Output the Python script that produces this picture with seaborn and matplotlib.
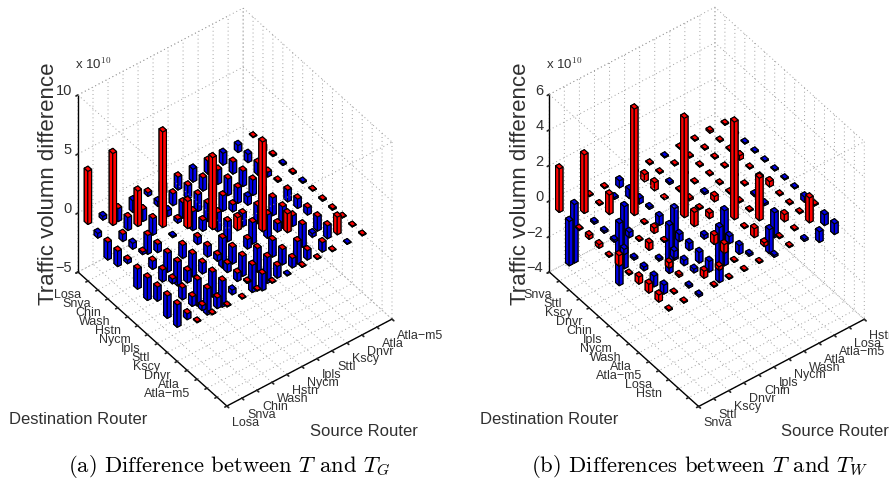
import matplotlib
matplotlib.use('Agg')
import matplotlib.pyplot as plt
import numpy as np
import seaborn as sns
from mpl_toolkits.mplot3d import proj3d

# Router order on the axes
src_a = ['Losa', 'Snva', 'Chin', 'Wash', 'Hstn', 'Nycm', 'Ipls', 'Sttl', 'Kscy', 'Dnvr', 'Atla', 'Atla−m5']
dst_a = src_a
src_b = ['Snva', 'Sttl', 'Kscy', 'Dnvr', 'Chin', 'Ipls', 'Nycm', 'Wash', 'Atla', 'Atla−m5', 'Losa', 'Hstn']
dst_b = src_b

# Traffic difference, x 10^10, rows = destination, columns = source
diff_a = [
    [4.5, -0.3, -1.1, -1.0, -0.3, -0.8, -1.1, -1.1, -1.1, -1.0, -0.6, 0.05],
    [-0.4, 6.1, -1.1, -1.0, -0.4, -1.0, -1.1, -1.1, -1.2, -1.0, -0.7, -0.5],
    [-1.5, -0.6, 3.0, -1.4, -0.5, -1.3, -1.4, -1.0, -1.4, -1.3, -1.0, -0.1],
    [-1.3, -0.5, -1.6, 8.1, -0.3, -1.6, -1.5, -1.3, -1.3, -1.3, -0.4, -0.1],
    [-0.3, -0.2, -0.7, -0.1, 2.3, -0.9, -1.6, -0.6, -0.7, -1.0, -0.1, -0.1],
    [-1.7, -0.7, -1.6, -1.1, -0.6, 6.1, -1.7, -1.1, -1.5, -1.5, -1.0, -0.1],
    [-1.9, -1.0, -2.0, -1.9, -0.9, -2.5, 1.1, -1.8, -2.0, -1.8, -0.8, 0.05],
    [-1.2, -0.4, -1.0, -0.9, -0.5, -1.4, -0.8, 7.6, -0.7, -0.9, -0.6, -0.1],
    [-1.9, -1.0, -2.2, -2.1, -0.7, -1.7, -2.0, -1.4, 1.6, -1.9, -1.2, -0.1],
    [-1.9, -0.8, -2.2, -2.2, -0.7, -2.3, -2.2, -1.3, -1.9, -0.3, -1.1, 0.05],
    [-0.5, -0.4, -0.9, -0.4, -0.1, -1.4, -1.0, -0.8, -0.8, -0.8, 1.5, 0.05],
    [0.05, 0.05, 0.05, 0.05, 0.05, 0.05, -0.05, 0.05, 0.05, 0.05, -0.05, 0.05],
]
diff_b = [
    [2.45, -3.3, 0.05, 0.05, -0.4, 0.05, 0.05, -0.05, 0.05, 0.05, 0.1, 0.05],
    [-2.5, 3.3, 0.05, -0.1, -0.5, 0.4, 0.05, 0.05, 0.05, 0.05, 0.05, -0.05],
    [0.05, -0.1, 1.1, -3.5, -0.3, 0.45, -0.1, 0.05, 0.05, 0.05, 0.05, -0.05],
    [0.2, -0.1, -3.5, 6.0, -0.1, 0.05, 0.05, 0.05, 0.05, 0.05, 0.25, -0.05],
    [0.2, -0.1, -0.3, 0.05, -0.5, -2.9, 0.1, -0.1, 0.05, 0.05, 0.05, -0.05],
    [0.05, -0.3, 0.05, 0.3, -2.7, 5.6, 0.05, 0.3, 0.05, 0.05, 0.05, -0.05],
    [0.6, -0.1, 0.4, 0.05, -0.4, 0.8, 0.3, -3.1, 0.05, -0.1, 0.3, -0.05],
    [0.05, -0.2, -0.1, -0.4, -0.4, -0.2, -3.1, 5.5, 0.05, -0.1, 0.05, -0.05],
    [0.4, -0.6, 0.3, -0.3, -0.6, 0.5, -0.4, 0.05, 2.4, -1.4, 0.05, -0.3],
    [0.5, -0.5, 0.1, -0.2, -0.6, 0.5, -0.5, 0.5, -1.35, 0.4, 0.05, 0.05],
    [0.4, 0.05, -0.1, 0.4, 0.2, 0.05, -0.1, 0.2, 0.05, 0.05, 1.4, -0.6],
    [0.05, 0.05, -0.1, 0.05, 0.05, 0.05, 0.05, -0.1, 0.05, -0.1, -0.6, -0.6],
]
# small negative bars of panel a whose top stays blue
blue_tops_a = [(0, 1), (0, 3), (0, 7), (0, 9), (0, 10), (1, 0), (1, 4), (1, 10), (2, 4),
               (3, 1), (3, 11), (4, 3), (4, 8), (5, 11), (9, 9), (10, 3), (11, 6), (11, 10)]

z_ticks_a = [-5, 0, 5, 10]
z_ticks_b = [-4, -2, 0, 2, 4, 6]

RED = '#ff0000'
BLUE = '#0000e8'
DARK = '#303030'
GRID = '#a0a0a0'
DOTS = (0, (1, 3))
W = 889
H = 482

sns.set_theme(style='white', rc={'mathtext.fontset': 'cm', 'axes.unicode_minus': True})
plt.rcParams['font.family'] = ['Liberation Sans', 'DejaVu Sans']


def corner_px(ax, x, y, z):
    xp, yp, _ = proj3d.proj_transform(x, y, z, ax.get_proj())
    return ax.transData.transform((xp, yp))


def fit_axes(ax, left, right, z_low):
    # move the square axes until the floor corners land on the wanted pixels
    side = 400.0
    cx, cy = (left[0] + right[0]) / 2, H - (left[1] + right[1]) / 2
    for _ in range(4):
        ax.set_position([(cx - side / 2) / W, (cy - side / 2) / H, side / W, side / H])
        ax.apply_aspect()
        a = corner_px(ax, 0, 0, z_low)
        b = corner_px(ax, 11, 15, z_low)
        c = corner_px(ax, 11, 0, z_low)
        d = corner_px(ax, 0, 15, z_low)
        xs = np.array([a[0], b[0], c[0], d[0]])
        side *= (right[0] - left[0]) / (xs.max() - xs.min())
        ax.set_position([(cx - side / 2) / W, (cy - side / 2) / H, side / W, side / H])
        ax.apply_aspect()
        a = corner_px(ax, 0, 0, z_low)
        cx += left[0] - a[0]
        cy += (H - left[1]) - a[1]
    ax.set_position([(cx - side / 2) / W, (cy - side / 2) / H, side / W, side / H])
    ax.apply_aspect()


def label_at(ax, x, y, z, s, size, dx=0, dy=0):
    # tick label written at the pixel under a point of the box
    px, py = corner_px(ax, x, y, z)
    fig.text((px + dx) / W, (py + dy) / H, s, fontsize=size, color=DARK, ha='right', va='center')


def draw_panel(ax, values, src, dst, zlim, zticks, left, right, blue_tops=None):
    ax.set_proj_type('ortho')
    ax.view_init(elev=43.5, azim=-127.4)
    ax.set_box_aspect((207.8, 245, 244))
    ax.computed_zorder = False
    ax.set_xlim(0, 11, view_margin=0)
    ax.set_ylim(15, 0, view_margin=0)
    ax.set_zlim(zlim[0], zlim[1], view_margin=0)

    wx, wy = 0.25, 0.36
    for r, row in enumerate(values):
        for c, v in enumerate(row):
            side = RED if v > 0 else BLUE
            if blue_tops is None:
                top = side
            else:
                top = BLUE if (r, c) in blue_tops else RED
            poly = ax.bar3d(c - wx / 2, r + 1 - wy / 2, min(v, 0), wx, wy, abs(v),
                            color=[side, top, side, side, side, side],
                            shade=False, edgecolor='black', linewidth=0.8)
            poly.set_zorder(10 + r * 26.2 - c * 23.5)

    ax.set_xticks(range(12))
    ax.set_xticklabels(src, fontsize=9, color=DARK, ha='left')
    ax.set_yticks(range(16))
    ax.set_yticklabels([''] * 16)
    ax.set_zticks(zticks)
    ax.set_zticklabels([''] * len(zticks))
    ax.tick_params(axis='x', pad=-3)

    for axis in (ax.xaxis, ax.yaxis, ax.zaxis):
        axis.pane.fill = False
        axis.pane.set_edgecolor('none')
        axis.line.set_color('black')
        axis.line.set_linewidth(1.0)
        axis._axinfo['grid'].update(color=GRID, linestyle=DOTS, linewidth=0.7)
        axis._axinfo['tick'].update(color='black', inward_factor=0.15, outward_factor=0.0)

    # dotted box edges round the back walls
    ax.plot([0, 0, 11], [0, 15, 15], [zlim[1]] * 3, ls=DOTS, lw=0.7, color=GRID, zorder=1)
    ax.plot([0, 11], [0, 0], [zlim[1]] * 2, ls=DOTS, lw=0.7, color=GRID, zorder=1)
    ax.patch.set_alpha(0)
    fit_axes(ax, left, right, zlim[0])

    # destination and z labels sit off their ticks
    for r, name in enumerate(dst):
        label_at(ax, 0, r + 1, zlim[0], name, 9, dx=-7, dy=-14.5)
    for t in zticks:
        label_at(ax, 0, 0, t, str(t).replace('-', '−'), 10.5, dx=-6, dy=3.5)


fig = plt.figure(figsize=(W / 100, H / 100), dpi=100)
ax_a = fig.add_axes([0, 0, 0.5, 1], projection='3d')
ax_b = fig.add_axes([0.5, 0, 0.5, 1], projection='3d')
draw_panel(ax_a, diff_a, src_a, dst_a, (-5, 10), z_ticks_a, (78, 272), (392, 319), blue_tops_a)
draw_panel(ax_b, diff_b, src_b, dst_b, (-4, 6), z_ticks_b, (549.3, 272), (864.3, 320))


def px_text(x, y, s, **kw):
    fig.text(x / W, 1 - y / H, s, ha='center', va='center', color=kw.pop('color', DARK), **kw)


for off, cap_x, cap in [(0, 229, r'(a) Difference between $T$ and $T_G$'),
                        (471.3, 229, r'(b) Differences between $T$ and $T_W$')]:
    px_text(49 + off, 184, 'Traffic volumn difference', rotation=90, fontsize=16)
    px_text(78 + off, 420, 'Destination Router', fontsize=12)
    px_text(364 + off, 432, 'Source Router', fontsize=12)
    px_text(93 + off, 64, r'x 10$^{10}$', fontsize=9.5)
    px_text(cap_x + off, 467, cap, fontsize=16.3, family=['cmr10'], color='black')

fig.savefig('out.png', dpi=100)
